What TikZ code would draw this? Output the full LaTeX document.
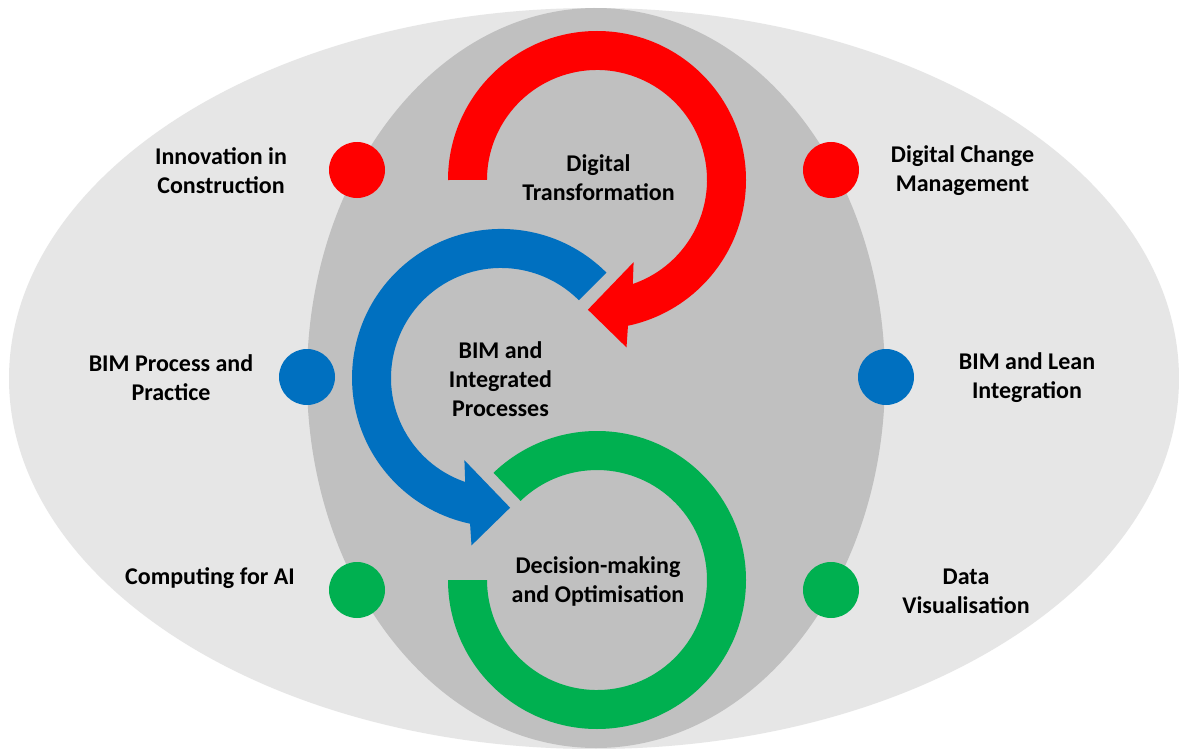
\documentclass[tikz,border=0pt]{standalone}
\usepackage{fontspec}
\setmainfont{Carlito}

\definecolor{outergray}{RGB}{230,230,230}
\definecolor{innergray}{RGB}{192,192,192}
\definecolor{arcred}{RGB}{255,0,0}
\definecolor{arcblue}{RGB}{0,112,192}
\definecolor{arcgreen}{RGB}{0,176,80}

\tikzset{every picture/.style={line width=0.75pt}}
\tikzset{
  dot/.style={circle, inner sep=0pt, minimum size=42pt},
  lbl/.style={align=center, inner sep=0.75pt, font=\bfseries\fontsize{18}{21.75}\selectfont},
}

\begin{document}
\begin{tikzpicture}[x=0.75pt,y=0.75pt,yscale=-1,xscale=1]
        \useasboundingbox (0,0) rectangle (1179,749);
        \fill[white] (0,0) rectangle (1179,749);

        %Shape: Ellipse
        \fill[outergray] (594,378.5) ellipse [x radius=585, y radius=370.5];
        %Shape: Ellipse
        \fill[innergray] (596,378) ellipse [x radius=289, y radius=370];

        %Shape: Circular Arrow
        \fill[arcred] (448,180) arc [start angle=180, end angle=438, radius=149] -- (626.5,347.4) -- (587.9,309.7) -- (633.6,262.2) -- (632.8,284) arc [start angle=431, end angle=180, radius=110] -- cycle;
        %Shape: Circular Arrow
        \fill[arcblue] (606.4,272.6) arc [start angle=315, end angle=102, radius=149] -- (471.5,545.4) -- (510.1,507.7) -- (464.4,460.2) -- (465.2,482) arc [start angle=109, end angle=315, radius=110] -- cycle;
        %Shape: Block Arc
        \fill[arcgreen] (448,580) arc [start angle=180, end angle=-134, radius=149] -- (520.6,500.9) arc [start angle=-134, end angle=180, radius=110] -- cycle;

        %Shape: Circle
        \node[dot, fill=arcred] (innovdot) at (357,170) {};
        \node[dot, fill=arcred] (changedot) at (831,170) {};
        \node[dot, fill=arcblue] (bimdot) at (307,377) {};
        \node[dot, fill=arcblue] (leandot) at (886,377) {};
        \node[dot, fill=arcgreen] (aidot) at (357,590) {};
        \node[dot, fill=arcgreen] (datadot) at (831,590) {};

        % Text Node
        \node[lbl] (transform) at (598.5,178) {Digital\\Transformation};
        % Text Node
        \node[lbl] (integrated) at (500.5,379) {BIM and\\Integrated\\Processes};
        % Text Node
        \node[lbl] (decision) at (598,581) {Decision-making\\and Optimisation};
        % Text Node
        \node[lbl] (innovation) at (221,171) {Innovation in\\Construction};
        % Text Node
        \node[lbl] (change) at (962.5,171) {Digital Change\\Management};
        % Text Node
        \node[lbl] (bimprocess) at (171,378) {BIM Process and\\Practice};
        % Text Node
        \node[lbl] (bimlean) at (1027,378) {BIM and Lean\\Integration};
        % Text Node
        \node[lbl] (computing) at (210,578) {Computing for AI};
        % Text Node
        \node[lbl] (dataviz) at (966,591.5) {Data\\Visualisation};

\end{tikzpicture}
\end{document}
